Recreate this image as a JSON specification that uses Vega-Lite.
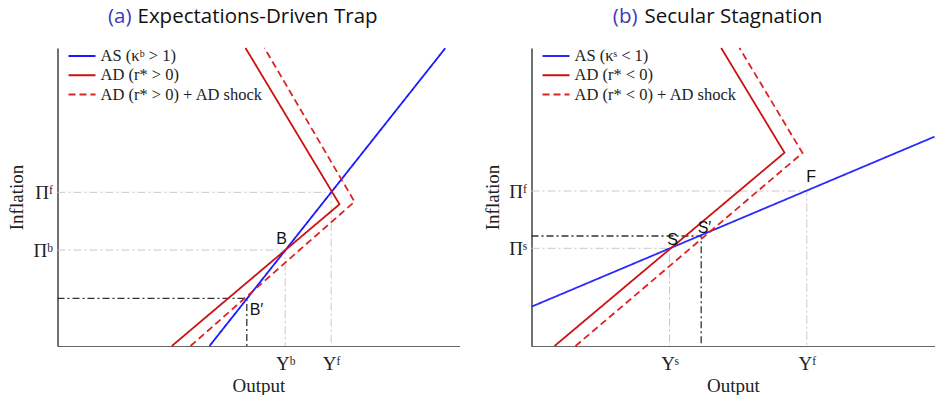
{
  "$schema": "https://vega.github.io/schema/vega-lite/v6.json",
  "background": "white",
  "padding": {"left": 7.5, "top": 7, "right": 0, "bottom": 0},
  "spacing": 72,
  "bounds": "flush",
  "config": {
    "view": {"stroke": null},
    "axis": {"grid": false, "ticks": false, "labelFont": "Liberation Serif", "labelFontSize": 19, "labelColor": "#222", "titleFont": "Liberation Serif", "titleFontSize": 19, "titleFontWeight": "normal", "titleColor": "#222", "labelOverlap": false, "labelFlush": false, "domainWidth": 1.2},
    "axisX": {"domainColor": "#666", "labelPadding": 8, "titlePadding": 3},
    "axisY": {"domainColor": "#111", "labelPadding": 5, "titlePadding": 6},
    "legend": {"title": null, "orient": "none", "legendX": 10, "legendY": 0, "symbolType": "stroke", "symbolSize": 729, "symbolStrokeWidth": 2, "labelFont": "Liberation Serif", "labelFontSize": 16.5, "labelColor": "#222", "labelLimit": 400, "clipHeight": 16, "rowPadding": 2.3, "labelOffset": 4, "padding": 0}
  },
  "resolve": {"scale": {"color": "independent", "strokeDash": "independent", "x": "independent", "y": "independent"}},
  "hconcat": [
    {
      "width": 402,
      "height": 298,
      "data": {"values": [
        {"k": "main", "s": "AS (κᵇ > 1)", "i": 0, "x": 152, "y": 0},
        {"k": "main", "s": "AS (κᵇ > 1)", "i": 1, "x": 387.7, "y": 297.7},
        {"k": "main", "s": "AD (r* > 0)", "i": 0, "x": 114.3, "y": 0},
        {"k": "main", "s": "AD (r* > 0)", "i": 1, "x": 282, "y": 141.7},
        {"k": "main", "s": "AD (r* > 0)", "i": 2, "x": 188, "y": 298},
        {"k": "main", "s": "AD (r* > 0) + AD shock", "i": 0, "x": 133, "y": 0},
        {"k": "main", "s": "AD (r* > 0) + AD shock", "i": 1, "x": 297, "y": 144.3},
        {"k": "main", "s": "AD (r* > 0) + AD shock", "i": 2, "x": 207, "y": 298},
        {"k": "ref", "g": "f", "i": 0, "x": 0, "y": 153.7},
        {"k": "ref", "g": "f", "i": 1, "x": 273.7, "y": 153.7},
        {"k": "ref", "g": "f", "i": 2, "x": 273.7, "y": 0},
        {"k": "ref", "g": "b", "i": 0, "x": 0, "y": 96},
        {"k": "ref", "g": "b", "i": 1, "x": 227.7, "y": 96},
        {"k": "ref", "g": "b", "i": 2, "x": 227.7, "y": 0},
        {"k": "blk", "g": "bp", "i": 0, "x": 0, "y": 47.7},
        {"k": "blk", "g": "bp", "i": 1, "x": 189.3, "y": 47.7},
        {"k": "blk", "g": "bp", "i": 2, "x": 189.3, "y": 0},
        {"k": "lab", "t": "B", "x": 224, "y": 107},
        {"k": "lab", "t": "B′", "x": 199, "y": 36},
        {"k": "tA", "t": "(a)", "x": 74, "y": 329},
        {"k": "tB", "t": "Expectations-Driven Trap", "x": 80, "y": 329}
      ]},
      "encoding": {
        "x": {"field": "x", "type": "quantitative", "scale": {"domain": [0, 402], "nice": false, "zero": false},
              "axis": {"title": "Output", "values": [227.7, 273.7], "labelExpr": "datum.value < 250 ? 'Yᵇ' : 'Yᶠ'"}},
        "y": {"field": "y", "type": "quantitative", "scale": {"domain": [0, 298], "nice": false, "zero": false},
              "axis": {"title": "Inflation", "values": [96, 153.7], "labelExpr": "datum.value < 120 ? 'Πᵇ' : 'Πᶠ'"}}
      },
      "layer": [
        {"transform": [{"filter": "datum.k == 'ref'"}], "mark": {"type": "line", "color": "#c8c8c8", "strokeWidth": 1, "strokeDash": [8, 3, 2, 3]}, "encoding": {"detail": {"field": "g"}, "order": {"field": "i"}}},
        {"transform": [{"filter": "datum.k == 'blk'"}], "mark": {"type": "line", "color": "#333", "strokeWidth": 1.3, "strokeDash": [7, 3, 2, 3]}, "encoding": {"detail": {"field": "g"}, "order": {"field": "i"}}},
        {"transform": [{"filter": "datum.k == 'main'"}], "mark": {"type": "line", "strokeWidth": 1.8},
         "encoding": {
           "color": {"field": "s", "type": "nominal", "scale": {"domain": ["AS (κᵇ > 1)", "AD (r* > 0)", "AD (r* > 0) + AD shock"], "range": ["#1a1aff", "#cc1111", "#dd2222"]}},
           "strokeDash": {"field": "s", "type": "nominal", "scale": {"domain": ["AS (κᵇ > 1)", "AD (r* > 0)", "AD (r* > 0) + AD shock"], "range": [[1, 0], [1, 0], [7, 4]]}},
           "order": {"field": "i"}
         }},
        {"transform": [{"filter": "datum.k == 'lab'"}], "mark": {"type": "text", "font": "Liberation Sans", "fontSize": 16, "color": "#111"}, "encoding": {"text": {"field": "t"}}},
        {"transform": [{"filter": "datum.k == 'tA'"}], "mark": {"type": "text", "font": "Open Sans", "fontSize": 20.5, "align": "right", "color": "#3a3ab8"}, "encoding": {"text": {"field": "t"}}},
        {"transform": [{"filter": "datum.k == 'tB'"}], "mark": {"type": "text", "font": "Open Sans", "fontSize": 20.5, "align": "left", "color": "#111"}, "encoding": {"text": {"field": "t"}}}
      ]
    },
    {
      "width": 403,
      "height": 298,
      "data": {"values": [
        {"k": "main", "s": "AS (κˢ < 1)", "i": 0, "x": 0, "y": 39.3},
        {"k": "main", "s": "AS (κˢ < 1)", "i": 1, "x": 403, "y": 209.3},
        {"k": "main", "s": "AD (r* < 0)", "i": 0, "x": 23, "y": 0},
        {"k": "main", "s": "AD (r* < 0)", "i": 1, "x": 253, "y": 193.3},
        {"k": "main", "s": "AD (r* < 0)", "i": 2, "x": 189.7, "y": 298},
        {"k": "main", "s": "AD (r* < 0) + AD shock", "i": 0, "x": 44, "y": 0},
        {"k": "main", "s": "AD (r* < 0) + AD shock", "i": 1, "x": 271, "y": 193},
        {"k": "main", "s": "AD (r* < 0) + AD shock", "i": 2, "x": 208, "y": 298},
        {"k": "ref", "g": "f", "i": 0, "x": 0, "y": 155},
        {"k": "ref", "g": "f", "i": 1, "x": 275.3, "y": 155},
        {"k": "ref", "g": "f", "i": 2, "x": 275.3, "y": 0},
        {"k": "ref", "g": "s", "i": 0, "x": 0, "y": 97.7},
        {"k": "ref", "g": "s", "i": 1, "x": 138, "y": 97.7},
        {"k": "ref", "g": "s", "i": 2, "x": 138, "y": 0},
        {"k": "blk", "g": "sp", "i": 0, "x": 0, "y": 110},
        {"k": "blk", "g": "sp", "i": 1, "x": 169.7, "y": 110},
        {"k": "blk", "g": "sp", "i": 2, "x": 169.7, "y": 0},
        {"k": "lab", "t": "S", "x": 141, "y": 106},
        {"k": "lab", "t": "S′", "x": 173, "y": 118.3},
        {"k": "lab", "t": "F", "x": 279.7, "y": 169.3},
        {"k": "tA", "t": "(b)", "x": 106, "y": 329},
        {"k": "tB", "t": "Secular Stagnation", "x": 113, "y": 329}
      ]},
      "encoding": {
        "x": {"field": "x", "type": "quantitative", "scale": {"domain": [0, 403], "nice": false, "zero": false},
              "axis": {"title": "Output", "values": [138, 275.3], "labelExpr": "datum.value < 200 ? 'Yˢ' : 'Yᶠ'"}},
        "y": {"field": "y", "type": "quantitative", "scale": {"domain": [0, 298], "nice": false, "zero": false},
              "axis": {"title": "Inflation", "values": [97.7, 155], "labelExpr": "datum.value < 120 ? 'Πˢ' : 'Πᶠ'"}}
      },
      "layer": [
        {"transform": [{"filter": "datum.k == 'ref'"}], "mark": {"type": "line", "color": "#c8c8c8", "strokeWidth": 1, "strokeDash": [8, 3, 2, 3]}, "encoding": {"detail": {"field": "g"}, "order": {"field": "i"}}},
        {"transform": [{"filter": "datum.k == 'blk'"}], "mark": {"type": "line", "color": "#333", "strokeWidth": 1.3, "strokeDash": [7, 3, 2, 3]}, "encoding": {"detail": {"field": "g"}, "order": {"field": "i"}}},
        {"transform": [{"filter": "datum.k == 'main'"}], "mark": {"type": "line", "strokeWidth": 1.8},
         "encoding": {
           "color": {"field": "s", "type": "nominal", "scale": {"domain": ["AS (κˢ < 1)", "AD (r* < 0)", "AD (r* < 0) + AD shock"], "range": ["#2a2aff", "#cc1111", "#dd2222"]}},
           "strokeDash": {"field": "s", "type": "nominal", "scale": {"domain": ["AS (κˢ < 1)", "AD (r* < 0)", "AD (r* < 0) + AD shock"], "range": [[1, 0], [1, 0], [7, 4]]}},
           "order": {"field": "i"}
         }},
        {"transform": [{"filter": "datum.k == 'lab'"}], "mark": {"type": "text", "font": "Liberation Sans", "fontSize": 16, "color": "#111"}, "encoding": {"text": {"field": "t"}}},
        {"transform": [{"filter": "datum.k == 'tA'"}], "mark": {"type": "text", "font": "Open Sans", "fontSize": 20.5, "align": "right", "color": "#3a3ab8"}, "encoding": {"text": {"field": "t"}}},
        {"transform": [{"filter": "datum.k == 'tB'"}], "mark": {"type": "text", "font": "Open Sans", "fontSize": 20.5, "align": "left", "color": "#111"}, "encoding": {"text": {"field": "t"}}}
      ]
    }
  ]
}
